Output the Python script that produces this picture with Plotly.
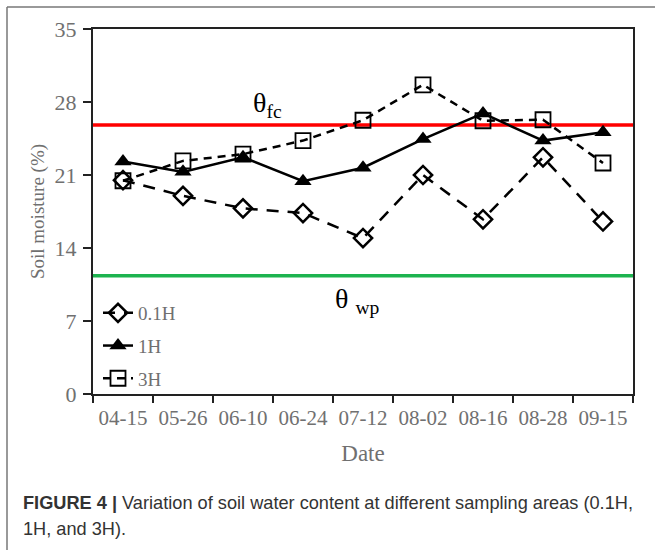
import plotly.graph_objects as go

dates = ["04-15", "05-26", "06-10", "06-24", "07-12", "08-02", "08-16", "08-28", "09-15"]
h01 = [20.5, 19.0, 17.8, 17.35, 14.95, 21.0, 16.75, 22.7, 16.55]
h1 = [22.3, 21.3, 22.7, 20.4, 21.7, 24.45, 26.9, 24.3, 25.1]
h3 = [20.45, 22.35, 23.0, 24.3, 26.25, 29.65, 26.2, 26.3, 22.15]
theta_fc = 25.8
theta_wp = 11.35
y_ticks = [0, 7, 14, 21, 28, 35]

W, H = 655, 550
L, R, T, B = 93, 22, 29, 156
pw, ph = W - L - R, H - T - B

def px_x(p):
    return (p - L) / pw

def px_y(p):
    return (H - B - p) / ph

serif = "Liberation Serif"
gray = "#707070"

fig = go.Figure()
fig.add_trace(go.Scatter(
    x=dates, y=h01, name="0.1H", mode="lines+markers", legendgroup="a",
    line=dict(color="black", width=2.5, dash="12px,9px"),
    marker=dict(symbol="diamond-open", size=14, color="black", line=dict(width=2.5)),
))
fig.add_trace(go.Scatter(
    x=dates, y=h1, name="1H", mode="lines+markers", legendgroup="b",
    line=dict(color="black", width=2.5),
    marker=dict(symbol="triangle-up", size=15, color="black"),
))
fig.add_trace(go.Scatter(
    x=dates, y=h3, name="3H", mode="lines+markers", legendgroup="c",
    line=dict(color="black", width=2.5, dash="8px,6px"),
    marker=dict(symbol="square-open", size=15, color="black", line=dict(width=1.8)),
))

fig.add_hline(y=theta_fc, line=dict(color="#ff0000", width=3.5), layer="below")
fig.add_hline(y=theta_wp, line=dict(color="#1db34f", width=3.5), layer="below")

fig.add_annotation(x=2.4, y=theta_fc + 2.0, text="θ<sub>fc</sub>", showarrow=False,
                   font=dict(family=serif, size=28, color="black"), xanchor="center", yanchor="middle")
fig.add_annotation(x=3.9, y=theta_wp - 2.4, text="θ <sub>wp</sub>", showarrow=False,
                   font=dict(family=serif, size=28, color="black"), xanchor="center", yanchor="middle")

cap_font = dict(family="Liberation Sans", size=18.2, color="#333333")
fig.add_annotation(xref="paper", yref="paper", x=px_x(21), y=px_y(503), xanchor="left", yanchor="middle",
                   text="<b>FIGURE 4 |</b> Variation of soil water content at different sampling areas (0.1H,",
                   showarrow=False, font=cap_font)
fig.add_annotation(xref="paper", yref="paper", x=px_x(21), y=px_y(529), xanchor="left", yanchor="middle",
                   text="1H, and 3H).", showarrow=False, font=cap_font)

frame = dict(color="#777777", width=1.5)
fig.add_shape(type="line", xref="paper", yref="paper", x0=px_x(7), x1=px_x(660), y0=px_y(7), y1=px_y(7), line=frame)
fig.add_shape(type="line", xref="paper", yref="paper", x0=px_x(7), x1=px_x(7), y0=px_y(7), y1=px_y(560), line=frame)

fig.update_layout(
    width=W, height=H,
    margin=dict(l=L, r=R, t=T, b=B),
    paper_bgcolor="white", plot_bgcolor="white",
    showlegend=True,
    legend=dict(x=px_x(98), y=px_y(294), xanchor="left", yanchor="top",
                bgcolor="rgba(0,0,0,0)", font=dict(family=serif, size=19, color=gray),
                tracegroupgap=5, itemwidth=30),
    font=dict(family=serif, color=gray),
)
fig.update_xaxes(
    type="category", range=[-0.5, 8.5], tickson="boundaries", tickangle=0,
    ticks="outside", ticklen=7, tickwidth=2, tickcolor="#222",
    showline=True, linewidth=2, linecolor="#222", mirror=True, showgrid=False,
    tickfont=dict(family=serif, size=21, color=gray), ticklabelstandoff=4,
    title=dict(text="Date", font=dict(family=serif, size=23, color=gray), standoff=16),
)
fig.update_yaxes(
    range=[0, 35], tickvals=y_ticks,
    ticks="outside", ticklen=8, tickwidth=2, tickcolor="#222",
    showline=True, linewidth=2, linecolor="#222", mirror=True, showgrid=False, zeroline=False,
    tickfont=dict(family=serif, size=22, color=gray), ticklabelstandoff=2,
    title=dict(text="Soil moisture (%)", font=dict(family=serif, size=19, color=gray), standoff=5),
)

fig.write_html("out.html")
